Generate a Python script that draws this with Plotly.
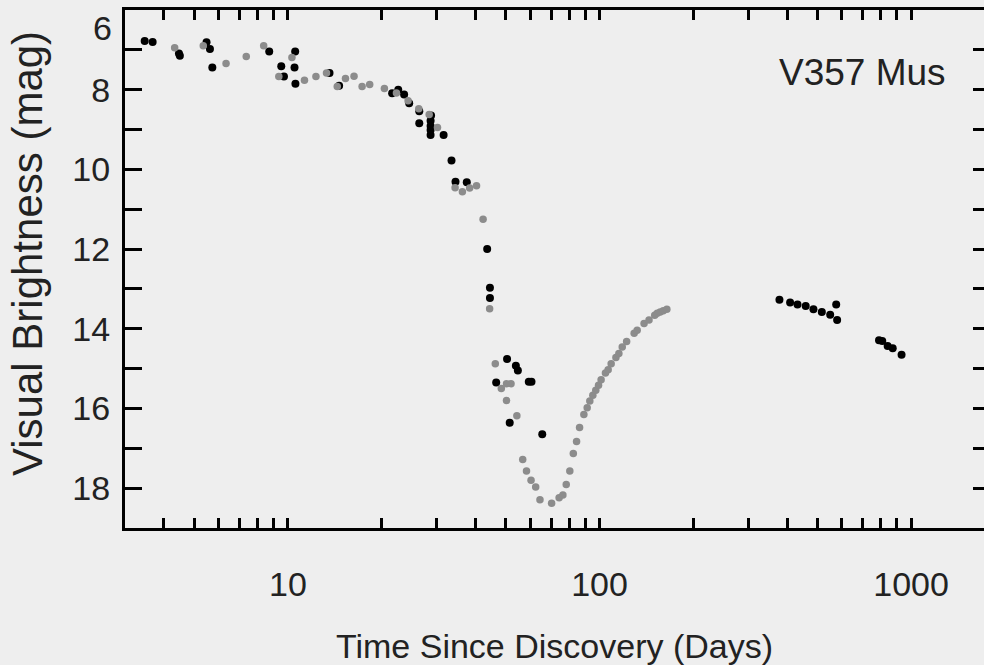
import math
import plotly.graph_objects as go

# Black points (time in days, visual magnitude)
black_t = [3.47, 3.68, 4.47, 4.50, 5.48, 5.62, 5.72, 8.71, 9.52, 9.71, 10.55, 10.5, 10.57,
           13.6, 14.6, 21.6, 22.6, 23.6, 24.5, 26.4, 26.4, 28.8, 28.7, 28.7, 28.7, 28.7,
           31.6, 33.5, 34.5, 37.5, 43.6, 44.5, 44.5, 50.5, 53.9, 54.7, 46.6, 59.3, 60.5,
           51.5, 65.5, 378, 409, 432, 459, 486, 517, 550, 575, 579, 789, 808, 841, 873, 932]
black_mag = [6.78, 6.80, 7.09, 7.15, 6.81, 6.98, 7.44, 7.04, 7.41, 7.67, 7.04, 7.44, 7.85,
             7.58, 7.90, 8.09, 8.00, 8.12, 8.34, 8.54, 8.84, 8.65, 8.78, 8.91, 9.01, 9.14,
             9.14, 9.78, 10.31, 10.32, 12.0, 12.97, 13.23, 14.76, 14.93, 15.05, 15.35, 15.33, 15.33,
             16.36, 16.65, 13.27, 13.34, 13.39, 13.43, 13.51, 13.58, 13.65, 13.39, 13.78,
             14.29, 14.31, 14.43, 14.49, 14.65]

# Gray points
gray_t = [4.33, 5.35, 6.33, 7.35, 8.36, 9.35, 10.3, 11.3, 12.3, 13.3, 14.4, 15.3, 16.3, 17.3,
          18.3, 20.4, 22.3, 24.3, 26.3, 28.4, 30.2, 34.4, 36.3, 38.3, 40.3, 42.3, 44.4, 46.3,
          48.4, 50.3, 52.0, 50.3, 54.3, 56.7, 58.3, 60.3, 62.4, 64.4, 70.2, 74.2, 76.3, 78.2,
          80.3, 82.4, 84.4, 86.3, 89.1, 91.3, 93.1, 95.2, 97.3, 99.3, 101.2, 104.5, 106.6,
          109.0, 112.9, 115.4, 118.3, 122.2, 129.2, 132.1, 139.0, 144.2, 150.4, 153.2, 156.6,
          160.2, 164.5]
gray_mag = [6.95, 6.90, 7.34, 7.17, 6.90, 7.67, 7.19, 7.76, 7.67, 7.58, 7.92, 7.72, 7.66, 7.92,
            7.87, 7.97, 8.08, 8.28, 8.48, 8.62, 8.95, 10.46, 10.56, 10.47, 10.41, 11.25, 13.50, 14.88,
            15.50, 15.38, 15.38, 15.80, 16.18, 17.28, 17.57, 17.80, 17.97, 18.29, 18.38, 18.24, 18.17, 17.91,
            17.57, 17.13, 16.83, 16.48, 16.15, 15.98, 15.81, 15.67, 15.54, 15.42, 15.28, 15.11, 15.03,
            14.88, 14.72, 14.62, 14.46, 14.32, 14.11, 14.04, 13.87, 13.78, 13.66, 13.61, 13.58,
            13.55, 13.51]

x_tickvals = [4, 5, 6, 7, 8, 9, 10, 20, 30, 40, 50, 60, 70, 80, 90, 100,
              200, 300, 400, 500, 600, 700, 800, 900, 1000]
x_labels = {10: "10", 100: "100", 1000: "1000"}
y_tickvals = list(range(6, 20))
y_labels = {8: "8", 10: "10", 12: "12", 14: "14", 16: "16", 18: "18"}

FONT = "Liberation Sans, Arial, sans-serif"
TXT = "#222222"
BG = "#eeeeee"

fig = go.Figure()
fig.add_trace(go.Scatter(x=black_t, y=black_mag, mode="markers", yaxis="y",
                         marker=dict(color="black", size=8), showlegend=False))
fig.add_trace(go.Scatter(x=gray_t, y=gray_mag, mode="markers", yaxis="y2",
                         marker=dict(color="#8c8c8c", size=7.5), showlegend=False))

fig.update_layout(
    width=984, height=665,
    margin=dict(l=125, r=0, t=10, b=137),
    paper_bgcolor=BG, plot_bgcolor=BG,
    font=dict(family=FONT, color=TXT),
    xaxis=dict(
        type="log", range=[math.log10(3), math.log10(1714)],
        tickvals=x_tickvals, ticktext=[x_labels.get(v, "") for v in x_tickvals],
        ticks="inside", ticklen=10, tickwidth=3, tickcolor="black",
        showline=True, linewidth=3, linecolor="black", mirror="ticks",
        showgrid=False, zeroline=False,
        tickfont=dict(size=34, color=TXT),
        ticklabelstandoff=24,
        title=dict(text="Time Since Discovery (Days)", font=dict(size=34, color=TXT), standoff=33),
    ),
    yaxis=dict(
        range=[19, 6], tickvals=y_tickvals, ticktext=[y_labels.get(v, "") for v in y_tickvals],
        ticks="inside", ticklen=17, tickwidth=3, tickcolor="black",
        showline=True, linewidth=3, linecolor="black", mirror=False,
        showgrid=False, zeroline=False,
        tickfont=dict(size=34, color=TXT),
        ticklabelstandoff=5,
    ),
    yaxis2=dict(
        overlaying="y", side="right", anchor="x", matches="y",
        range=[19, 6], tickvals=y_tickvals, showticklabels=False,
        ticks="inside", ticklen=11, tickwidth=3, tickcolor="black",
        showline=False, showgrid=False, zeroline=False,
    ),
    annotations=[
        dict(text="V357 Mus", xref="paper", yref="paper", x=(862 - 125) / 859, y=(528 - 73) / 518,
             xanchor="center", yanchor="middle", showarrow=False, font=dict(size=37, color=TXT)),
        dict(text="6", xref="paper", yref="paper", x=(114 - 125) / 859, y=(528 - 28) / 518,
             xanchor="right", yanchor="middle", showarrow=False, font=dict(size=34, color=TXT)),
        dict(text="Visual Brightness (mag)", xref="paper", yref="paper", x=(28 - 125) / 859,
             y=(528 - 254) / 518, xanchor="center", yanchor="middle", textangle=-90,
             showarrow=False, font=dict(size=42, color=TXT)),
    ],
)

fig.write_html("out.html")
